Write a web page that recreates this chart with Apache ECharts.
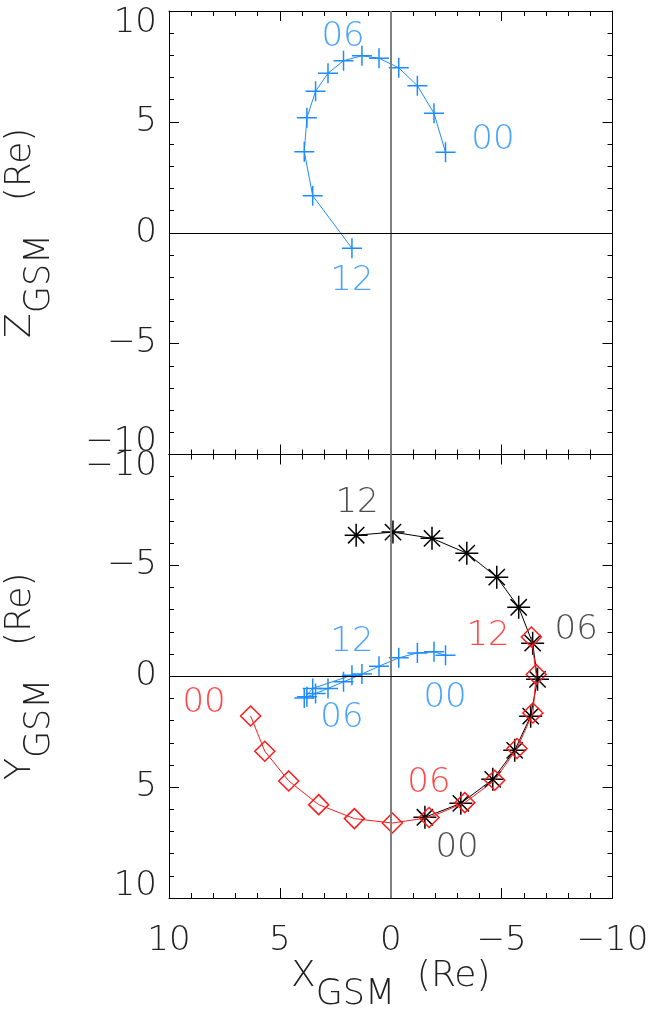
<!DOCTYPE html>
<html>
<head>
<meta charset="utf-8">
<script src="https://cdn.jsdelivr.net/npm/echarts@6/dist/echarts.min.js"></script>
<style>
  html, body { margin: 0; padding: 0; background: #fff; }
  #chart { width: 652px; height: 1024px; }
</style>
</head>
<body>
<div id="chart"></div>
<script>
// ---- Data (hourly positions, 00..12 UT) ----
const hours = ['00','01','02','03','04','05','06','07','08','09','10','11','12'];
const tickValues = [-10, -5, 0, 5, 10];

// Blue spacecraft: X, Z (top panel) and X, Y (bottom panel)
const blueX = [-2.47, -1.95, -1.20, -0.36, 0.53, 1.30, 2.13, 2.83, 3.39, 3.78, 3.90, 3.52, 1.75];
const blueZ = [3.63, 5.39, 6.63, 7.44, 7.87, 7.98, 7.76, 7.19, 6.38, 5.19, 3.65, 1.67, -0.70];
const blueY = [-0.95, -1.10, -1.05, -0.83, -0.45, -0.10, 0.25, 0.55, 0.78, 0.92, 0.98, 0.55, -0.05];

// Red spacecraft: X, Y
const redX = [6.32, 5.68, 4.60, 3.25, 1.64, -0.07, -1.73, -3.34, -4.69, -5.69, -6.41, -6.56, -6.34];
const redY = [1.79, 3.38, 4.72, 5.79, 6.42, 6.62, 6.37, 5.70, 4.69, 3.26, 1.66, -0.08, -1.77];

// Black spacecraft: X, Y
const blackX = [-1.54, -3.16, -4.60, -5.59, -6.31, -6.62, -6.40, -5.77, -4.78, -3.43, -1.86, -0.10, 1.56];
const blackY = [6.36, 5.73, 4.65, 3.34, 1.80, 0.14, -1.49, -3.11, -4.47, -5.55, -6.22, -6.50, -6.36];

// Hour annotations (data coordinates)
const topNotes = [['00', -4.61, 4.18], ['06', 2.15, 8.84], ['12', 1.75, -2.18]];
const blueNotes = [['12', 1.75, -1.53], ['06', 2.20, 1.90], ['00', -2.45, 0.99]];
const redNotes = [['00', 8.42, 1.22], ['06', -1.72, 4.83], ['12', -4.39, -1.81]];
const blackNotes = [['12', 1.52, -7.80], ['06', -8.36, -2.08], ['00', -2.99, 7.77]];

// ---- Styles ----
const FONT = "'DejaVu Sans', sans-serif";
const FW = 200;
const BLUE = '#1e8cff', RED = '#ff1a1a', BLACK = '#000000';
const PLUS = 'path://M0,-10L0,10M-10,0L10,0';
const STAR = 'path://M0,-10L0,10M-10,0L10,0M-7.07,-7.07L7.07,7.07M-7.07,7.07L7.07,-7.07';

const minus = v => (v < 0 ? '\u2212' + Math.abs(v) : String(v));

function baseAxis(extra) {
  return Object.assign({
    type: 'value', min: -10, max: 10, interval: 5,
    splitLine: { show: false },
    axisLine: { show: true, onZero: false, lineStyle: { color: '#000', width: 1 } },
    axisTick: { show: true, inside: true, length: 10, lineStyle: { color: '#000', width: 1 } },
    minorTick: { show: true, splitNumber: 5, length: 5, lineStyle: { color: '#000', width: 1 } },
    axisLabel: { show: false }
  }, extra);
}

const labelText = {
  fontFamily: FONT, fontWeight: FW, fontSize: 34, color: '#222', lineHeight: 34
};

function yLabels(topVal, botVal) {
  return Object.assign({}, labelText, {
    show: true, margin: 12,
    formatter: v => {
      const s = minus(v);
      if (v === topVal) return '{dn|' + s + '}';
      if (v === botVal) return '{up|' + s + '}';
      return s;
    },
    rich: {
      dn: { fontFamily: FONT, fontWeight: FW, fontSize: 34, color: '#222', lineHeight: 34, padding: [24, 0, 0, 0] },
      up: { fontFamily: FONT, fontWeight: FW, fontSize: 34, color: '#222', lineHeight: 34, padding: [0, 0, 24, 0] }
    }
  });
}

const titleRich = {
  m: { fontFamily: FONT, fontWeight: FW, fontSize: 36, color: '#222', lineHeight: 36, verticalAlign: 'top' },
  s: { fontFamily: FONT, fontWeight: FW, fontSize: 35, color: '#222', lineHeight: 35, verticalAlign: 'bottom' },
  h: { fontFamily: FONT, fontWeight: FW, fontSize: 34, color: '#222', lineHeight: 54 }
};

function notesSeries(notes, color, xi, yi) {
  return {
    type: 'scatter', xAxisIndex: xi, yAxisIndex: yi, z: 5,
    symbolSize: 0.1, itemStyle: { color: 'transparent' }, silent: true,
    data: notes.map(n => ({ name: n[0], value: [n[1], n[2]] })),
    label: {
      show: true, position: 'inside', formatter: p => p.name,
      fontFamily: FONT, fontWeight: FW, fontSize: 34, color: color
    }
  };
}

function pathSeries(xs, ys, color, symbol, size, bw, xi, yi, z) {
  return {
    type: 'line', xAxisIndex: xi, yAxisIndex: yi, z: z,
    data: xs.map((x, i) => ({ name: hours[i], value: [x, ys[i]] })),
    lineStyle: { color: color, width: 1 },
    symbol: symbol, symbolSize: size, showAllSymbol: true,
    itemStyle: { color: 'transparent', borderColor: color, borderWidth: bw },
    emphasis: { disabled: true },
    animation: false
  };
}

function zeroLines(xi, yi) {
  return {
    type: 'line', xAxisIndex: xi, yAxisIndex: yi, z: 1, data: [], silent: true,
    markLine: {
      silent: true, symbol: 'none', animation: false, label: { show: false },
      data: [
        { xAxis: 0, lineStyle: { color: '#808080', width: 2, type: 'solid' } },
        { yAxis: 0, lineStyle: { color: '#000', width: 1, type: 'solid' } }
      ]
    }
  };
}

const chart = echarts.init(document.getElementById('chart'), null, { renderer: 'canvas' });
chart.setOption({
  backgroundColor: '#fff',
  animation: false,
  grid: [
    { left: 169, top: 11, width: 443.5, height: 443.5, containLabel: false, outerBoundsMode: 'none' },
    { left: 169, top: 454.5, width: 443.5, height: 443.5, containLabel: false, outerBoundsMode: 'none' }
  ],
  xAxis: [
    baseAxis({ gridIndex: 0, position: 'bottom', inverse: true }),
    baseAxis({ gridIndex: 0, position: 'top', inverse: true }),
    baseAxis({
      gridIndex: 1, position: 'bottom', inverse: true,
      axisLabel: Object.assign({}, labelText, { show: true, margin: 26, formatter: minus }),
      name: '{m|X}{s|GSM}{h|  }{m|(Re)}',
      nameLocation: 'middle', nameGap: 58,
      nameTextStyle: { rich: titleRich }
    }),
    baseAxis({ gridIndex: 1, position: 'top', inverse: true })
  ],
  yAxis: [
    baseAxis({
      gridIndex: 0, position: 'left',
      axisLabel: yLabels(10, -10),
      name: '{m|Z}{s|GSM}{h|   }{m|(Re)}',
      nameLocation: 'middle', nameGap: 112, nameRotate: 90,
      nameTextStyle: { rich: titleRich, padding: [0, 0, 0, 0] }
    }),
    baseAxis({ gridIndex: 0, position: 'right' }),
    baseAxis({
      gridIndex: 1, position: 'left', inverse: true,
      axisLabel: yLabels(-10, 10),
      name: '{m|Y}{s|GSM}{h|   }{m|(Re)}',
      nameLocation: 'middle', nameGap: 112, nameRotate: 90,
      nameTextStyle: { rich: titleRich }
    }),
    baseAxis({ gridIndex: 1, position: 'right', inverse: true })
  ],
  series: [
    zeroLines(0, 0),
    zeroLines(2, 2),
    pathSeries(blueX, blueZ, BLUE, PLUS, 20, 1.5, 0, 0, 3),
    pathSeries(blueX, blueY, BLUE, PLUS, 20, 1.5, 2, 2, 3),
    pathSeries(blackX, blackY, BLACK, STAR, 23, 1.5, 2, 2, 3),
    pathSeries(redX, redY, RED, 'diamond', 20, 1.5, 2, 2, 4),
    notesSeries(topNotes, BLUE, 0, 0),
    notesSeries(blueNotes, BLUE, 2, 2),
    notesSeries(redNotes, RED, 2, 2),
    notesSeries(blackNotes, '#222', 2, 2)
  ]
});
</script>
</body>
</html>
